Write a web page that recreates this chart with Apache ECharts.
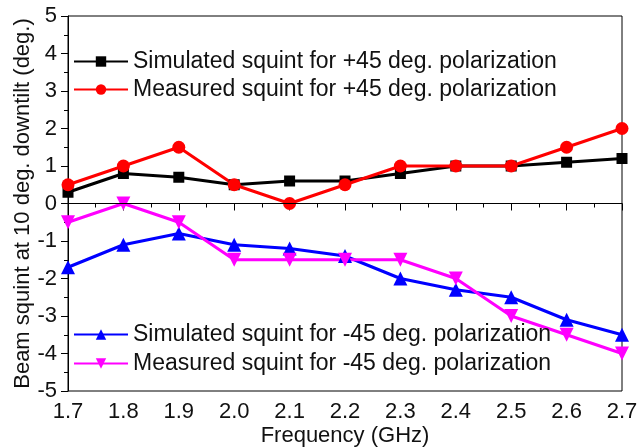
<!DOCTYPE html>
<html><head><meta charset="utf-8">
<script src="https://cdn.jsdelivr.net/npm/echarts@6/dist/echarts.min.js"></script>
<style>html,body{margin:0;padding:0;background:#fff}#c{width:637px;height:447px}</style>
</head><body><div id="c"></div>
<script>
const freqs = [1.7,1.8,1.9,2.0,2.1,2.2,2.3,2.4,2.5,2.6,2.7];
const simPlus = [0.3,0.8,0.7,0.5,0.6,0.6,0.8,1.0,1.0,1.1,1.2];
const measPlus = [0.5,1.0,1.5,0.5,0.0,0.5,1.0,1.0,1.0,1.5,2.0];
const simMinus = [-1.7,-1.1,-0.8,-1.1,-1.2,-1.4,-2.0,-2.3,-2.5,-3.1,-3.5];
const measMinus = [-0.5,0.0,-0.5,-1.5,-1.5,-1.5,-1.5,-2.0,-3.0,-3.5,-4.0];
const names = ['Simulated squint for +45 deg. polarization','Measured squint for +45 deg. polarization','Simulated squint for -45 deg. polarization','Measured squint for -45 deg. polarization'];
const pair = a => freqs.map((f,i)=>[f,a[i]]);
const font = 'Liberation Sans, Arial, sans-serif';
const chart = echarts.init(document.getElementById('c'));
const mk = (name, data, color, symbol, size, rot) => ({
  name, type:'line', data: pair(data), symbol, symbolSize:size, symbolRotate: rot||0,
  lineStyle:{color, width:3}, itemStyle:{color}, animation:false
});
const s0 = mk(names[0], simPlus, '#000000', 'rect', 11);
s0.markLine = {silent:true, symbol:'none', label:{show:false}, lineStyle:{color:'#000', width:1, type:'solid'}, data:[{yAxis:0}]};
const legendText = {fontFamily:font, fontSize:23, color:'#111'};
chart.setOption({
  animation:false,
  grid:{left:68, right:15, top:16, bottom:56, show:true, borderColor:'#000', borderWidth:1, containLabel:false, outerBoundsMode:'none'},
  legend:[{
    data:[names[0],names[1]], orient:'vertical', left:68, top:45, itemWidth:54, itemHeight:13, itemGap:5,
    textStyle:legendText
  },{
    data:[names[2],names[3]], orient:'vertical', left:68, top:318, itemWidth:54, itemHeight:13, itemGap:6,
    textStyle:legendText
  }],
  xAxis:{type:'value', min:1.7, max:2.7, interval:0.1,
    name:'Frequency (GHz)', nameLocation:'middle', nameGap:34, nameMoveOverlap:false,
    nameTextStyle:{fontFamily:font, fontSize:22, color:'#111'},
    axisLine:{lineStyle:{color:'#000', width:1}},
    axisTick:{show:true, inside:false, length:7, lineStyle:{color:'#000'}},
    minorTick:{show:true, splitNumber:2, length:4, lineStyle:{color:'#000'}},
    splitLine:{show:false},
    axisLabel:{fontFamily:font, fontSize:22, color:'#111', margin:10, formatter:v=>v.toFixed(1)}
  },
  yAxis:{type:'value', min:-5, max:5, interval:1,
    name:'Beam squint at 10 deg. downtilt (deg.)', nameLocation:'middle', nameGap:34, nameMoveOverlap:false,
    nameTextStyle:{fontFamily:font, fontSize:22, color:'#111'},
    axisLine:{show:true, lineStyle:{color:'#000', width:1}},
    axisTick:{show:true, inside:false, length:7, lineStyle:{color:'#000'}},
    minorTick:{show:true, splitNumber:2, length:4, lineStyle:{color:'#000'}},
    splitLine:{show:false},
    axisLabel:{fontFamily:font, fontSize:22, color:'#111', margin:11}
  },
  series:[
    s0,
    mk(names[1], measPlus, '#ff0000', 'circle', 13),
    mk(names[2], simMinus, '#0000ff', 'triangle', 14),
    mk(names[3], measMinus, '#ff00ff', 'triangle', 14, 180)
  ]
});
</script></body></html>
